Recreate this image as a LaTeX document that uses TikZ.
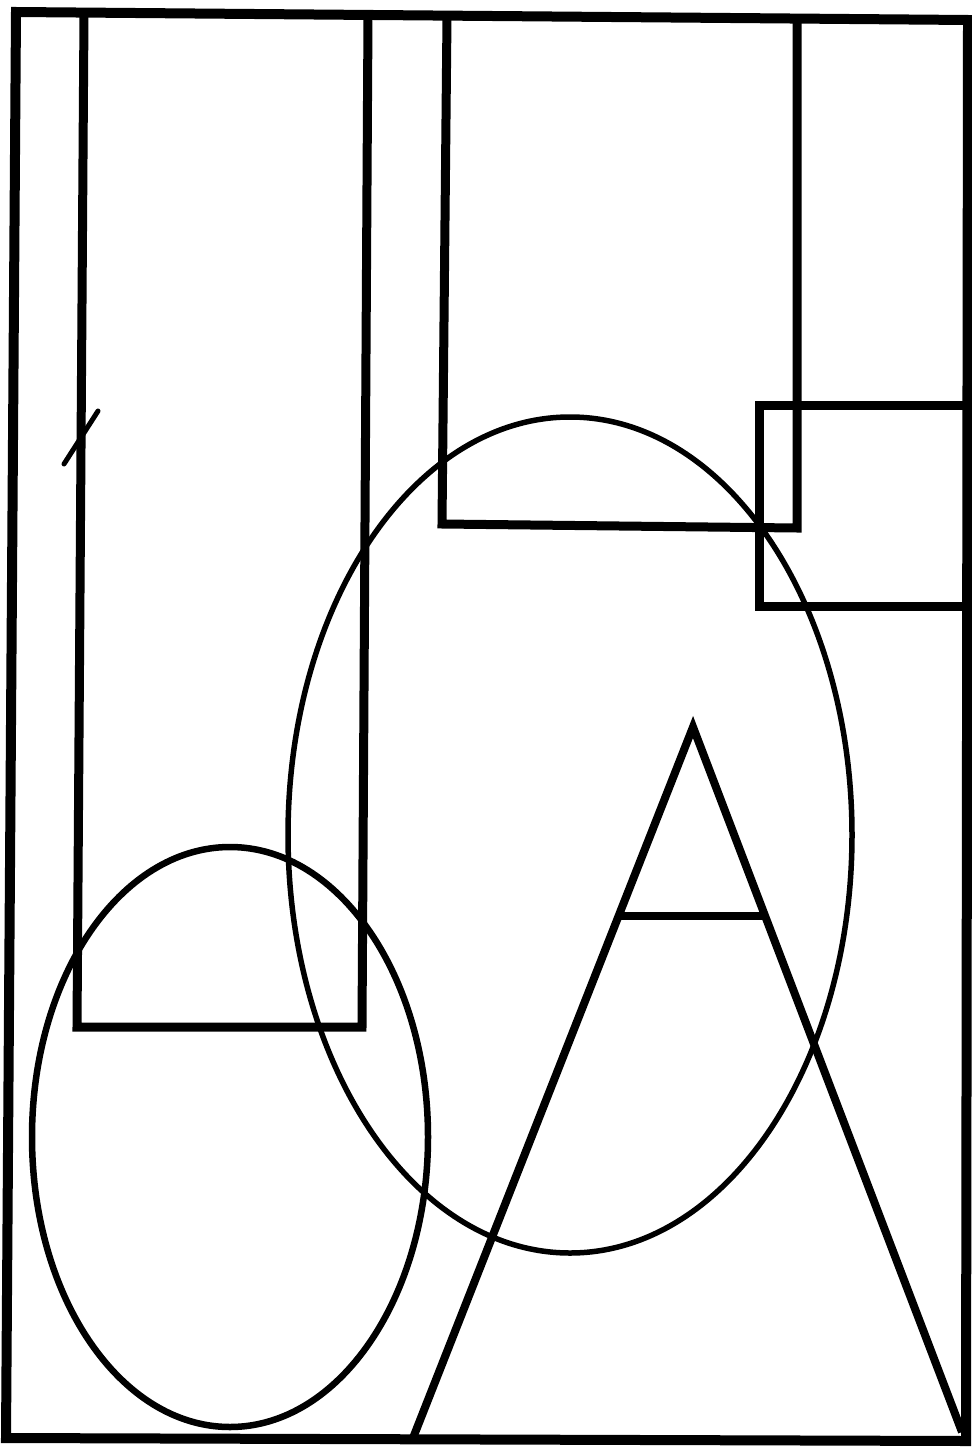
\documentclass[tikz,border=0pt]{standalone}
\begin{document}
\begin{tikzpicture}[x=1pt,y=-1pt,
  frame/.style={line width=10pt,line join=miter},
  boxline/.style={line width=9pt,line join=miter},
  tri/.style={line width=8pt,line join=miter},
  oval/.style={line width=5.5pt},
  pen/.style={line width=5pt,line cap=round}]
\useasboundingbox (0,0) rectangle (971,1447);
\fill[white] (0,0) rectangle (971,1447);
% outer frame
\draw[frame] (16,12) -- (968,20) -- (966,1441) -- (6,1438) -- cycle;
% tall rectangle on the left
\draw[boxline] (84,14) -- (77,1027) -- (362,1027) -- (368,16);
% upper middle rectangle
\draw[boxline] (447,17) -- (442,524) -- (797,528) -- (797,20);
% right small rectangle
\draw[boxline] (968,405) -- (759,405) -- (759,606) -- (968,606);
% big ellipse
\draw[oval] (570,835) ellipse [x radius=282, y radius=418];
% small ellipse
\draw[oval,line width=6.5pt] (230,1137) ellipse [x radius=198, y radius=290];
% triangle
\draw[tri] (413,1438) -- (693,727) -- (962,1432);
\draw[tri] (620,916) -- (767,916);
% slash mark
\draw[pen] (64,464) -- (98,411);
\end{tikzpicture}
\end{document}
